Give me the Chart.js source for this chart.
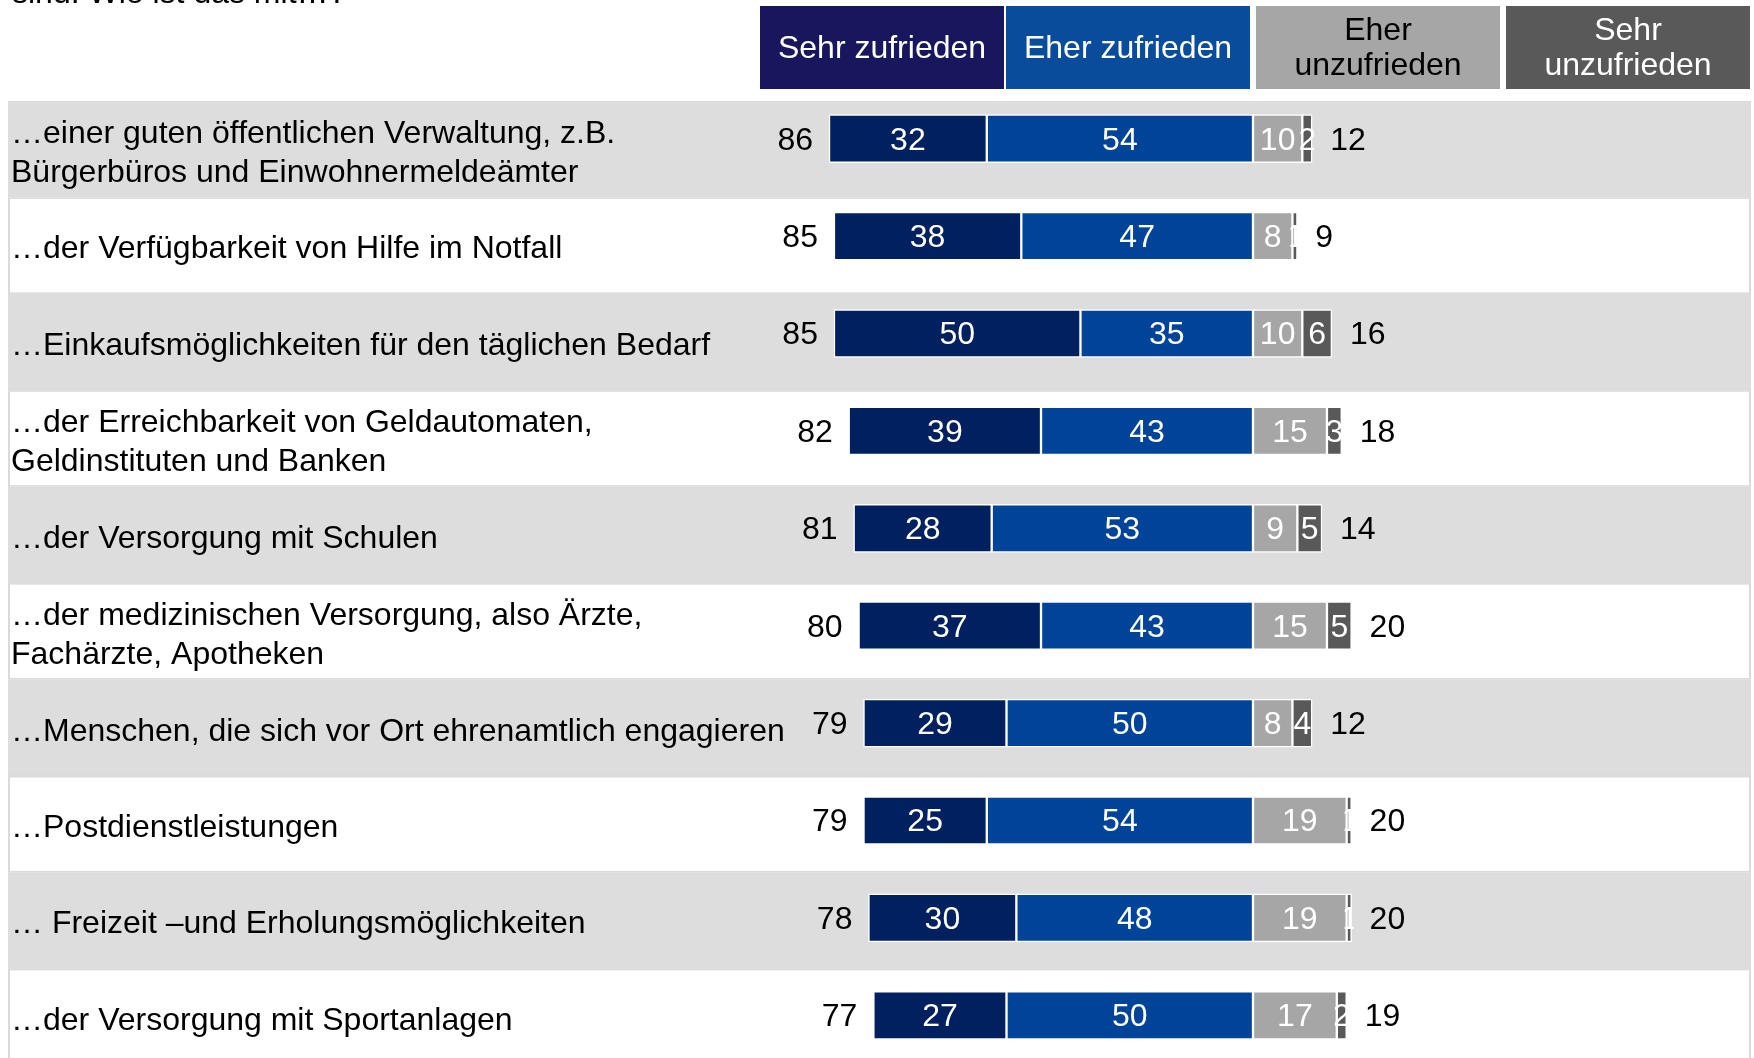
<!DOCTYPE html>
<html>
<head>
<meta charset="utf-8">
<script src="https://cdn.jsdelivr.net/npm/chart.js@4.4.1/dist/chart.umd.min.js"></script>
<style>
  html, body { margin: 0; padding: 0; background: #ffffff; overflow: hidden; }
  #wrap { width: 1754px; height: 1058px; overflow: hidden; position: relative; }
  canvas { display: block; }
</style>
</head>
<body>
<div id="wrap"><canvas id="c" width="1754" height="1064"></canvas></div>
<script>
// ---------- DATA ----------
const titleTail = "sind. Wie ist das mit…?";
const categories = [
  ["…einer guten öffentlichen Verwaltung, z.B.", "Bürgerbüros und Einwohnermeldeämter"],
  ["…der Verfügbarkeit von Hilfe im Notfall"],
  ["…Einkaufsmöglichkeiten für den täglichen Bedarf"],
  ["…der Erreichbarkeit von Geldautomaten,", "Geldinstituten und Banken"],
  ["…der Versorgung mit Schulen"],
  ["…der medizinischen Versorgung, also Ärzte,", "Fachärzte, Apotheken"],
  ["…Menschen, die sich vor Ort ehrenamtlich engagieren"],
  ["…Postdienstleistungen"],
  ["… Freizeit –und Erholungsmöglichkeiten"],
  ["…der Versorgung mit Sportanlagen"]
];
const seriesNames = ["Sehr zufrieden", "Eher zufrieden", "Eher unzufrieden", "Sehr unzufrieden"];
const sehrZufrieden   = [32, 38, 50, 39, 28, 37, 29, 25, 30, 27];
const eherZufrieden   = [54, 47, 35, 43, 53, 43, 50, 54, 48, 50];
const eherUnzufrieden = [10,  8, 10, 15,  9, 15,  8, 19, 19, 17];
const sehrUnzufrieden = [ 2,  1,  6,  3,  5,  5,  4,  1,  1,  2];
const totalZufrieden   = [86, 85, 85, 82, 81, 80, 79, 79, 78, 77];
const totalUnzufrieden = [12,  9, 16, 18, 14, 20, 12, 20, 20, 19];

// ---------- STYLE ----------
const FONT = '"Liberation Sans", Arial, Helvetica, sans-serif';
const colors = {
  sehrZ: '#002060',
  eherZ: '#00449A',
  eherU: '#A6A6A6',
  sehrU: '#595959'
};
const legendColors = ['#18175E', '#0A4C9C', '#A6A6A6', '#595959'];
const legendText = ['#ffffff', '#ffffff', '#000000', '#ffffff'];
const legendLines = [["Sehr zufrieden"], ["Eher zufrieden"], ["Eher", "unzufrieden"], ["Sehr", "unzufrieden"]];

const neg = a => a.map(v => -v);

const bandPlugin = {
  id: 'bands',
  beforeDatasetsDraw(chart) {
    const ctx = chart.ctx;
    const ys = chart.scales.y;
    const S = (ys.getPixelForValue(1) - ys.getPixelForValue(0)) * 0.99;
    const c0 = ys.getPixelForValue(0) + 10.5;
    ctx.save();
    categories.forEach((lab, i) => {
      const c = c0 + i * S;
      const top = c - S / 2;
      ctx.fillStyle = '#DADADA';
      ctx.fillRect(8, top, 1743, S);
      if (i % 2 === 0) {
        ctx.fillStyle = '#DDDDDD';
        ctx.fillRect(8, top + 1, 1743, S - 2);
      } else {
        ctx.fillStyle = '#FFFFFF';
        ctx.fillRect(10, top + 1.5, 1739, S - 3);
      }
      // row label
      ctx.fillStyle = '#000000';
      ctx.font = '32px ' + FONT;
      ctx.textAlign = 'left';
      ctx.textBaseline = 'middle';
      const lh = 39;
      const start = c + 4 - (lab.length - 1) * lh / 2;
      lab.forEach((t, k) => ctx.fillText(t, 11, start + k * lh));
    });
    ctx.restore();
  }
};

const headerPlugin = {
  id: 'header',
  afterDraw(chart) {
    const ctx = chart.ctx;
    ctx.save();
    // tail of question title (cut off at top)
    ctx.fillStyle = '#000000';
    ctx.font = '32px ' + FONT;
    ctx.textAlign = 'left';
    ctx.textBaseline = 'alphabetic';
    ctx.fillText(titleTail, 12, 3);
    const xs = [760, 1006, 1256, 1506];
    const ws = [244, 244, 244, 244];
    xs.forEach((x, i) => {
      ctx.fillStyle = legendColors[i];
      ctx.fillRect(x, 6, ws[i], 83);
      ctx.fillStyle = legendText[i];
      ctx.font = '32px ' + FONT;
      ctx.textAlign = 'center';
      ctx.textBaseline = 'alphabetic';
      const lines = legendLines[i];
      if (lines.length === 1) {
        ctx.fillText(lines[0], x + ws[i] / 2, 58);
      } else {
        ctx.fillText(lines[0], x + ws[i] / 2, 40);
        ctx.fillText(lines[1], x + ws[i] / 2, 75);
      }
    });
    ctx.restore();
  }
};

const labelPlugin = {
  id: 'barLabels',
  afterDatasetsDraw(chart) {
    const ctx = chart.ctx;
    ctx.save();
    ctx.font = '32px ' + FONT;
    ctx.textBaseline = 'middle';
    chart.data.datasets.forEach((ds, di) => {
      const meta = chart.getDatasetMeta(di);
      meta.data.forEach((el, i) => {
        const p = el.getProps(['x', 'y', 'base', 'height'], true);
        const l = Math.min(p.x, p.base), r = Math.max(p.x, p.base);
        const v = Math.abs(ds.data[i]);
        ctx.save();
        ctx.beginPath();
        ctx.rect(l - 2, p.y - p.height / 2, r - l + 4, p.height);
        ctx.clip();
        ctx.fillStyle = '#FFFFFF';
        ctx.textAlign = 'center';
        ctx.fillText(String(v), (l + r) / 2, p.y + 2);
        ctx.restore();
      });
    });
    // totals
    const xs = chart.scales.x, ys = chart.scales.y;
    ctx.fillStyle = '#000000';
    categories.forEach((c, i) => {
      const y = ys.getPixelForValue(i) + 2;
      const lx = xs.getPixelForValue(-(sehrZufrieden[i] + eherZufrieden[i]));
      const rx = xs.getPixelForValue(eherUnzufrieden[i] + sehrUnzufrieden[i]);
      ctx.textAlign = 'right';
      ctx.fillText(String(totalZufrieden[i]), lx - 16, y);
      ctx.textAlign = 'left';
      ctx.fillText(String(totalUnzufrieden[i]), rx + 18, y);
    });
    ctx.restore();
  }
};

const common = { borderColor: '#FFFFFF', borderWidth: 1.5, borderSkipped: false, barThickness: 48 };

new Chart(document.getElementById('c'), {
  type: 'bar',
  data: {
    labels: categories.map(c => c.join(' ')),
    datasets: [
      Object.assign({ label: seriesNames[1], data: neg(eherZufrieden), backgroundColor: colors.eherZ }, common),
      Object.assign({ label: seriesNames[0], data: neg(sehrZufrieden), backgroundColor: colors.sehrZ }, common),
      Object.assign({ label: seriesNames[2], data: eherUnzufrieden, backgroundColor: colors.eherU }, common),
      Object.assign({ label: seriesNames[3], data: sehrUnzufrieden, backgroundColor: colors.sehrU }, common)
    ]
  },
  options: {
    indexAxis: 'y',
    responsive: false,
    animation: false,
    devicePixelRatio: 1,
    layout: { padding: { left: 760, right: 8, top: 90, bottom: 0 } },
    scales: {
      x: { stacked: true, min: -100, max: 100, display: false },
      y: { stacked: true, display: false }
    },
    plugins: { legend: { display: false }, tooltip: { enabled: false } }
  },
  plugins: [bandPlugin, labelPlugin, headerPlugin]
});
</script>
</body>
</html>
